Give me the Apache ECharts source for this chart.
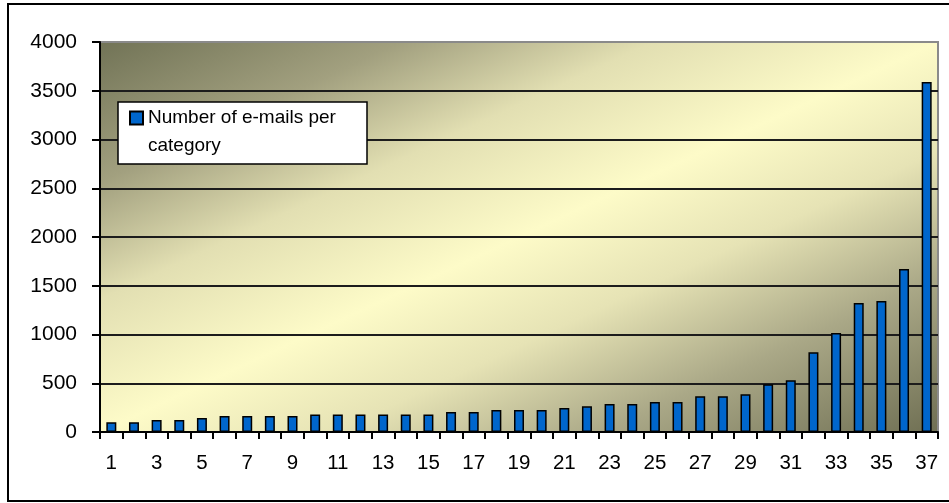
<!DOCTYPE html>
<html>
<head>
<meta charset="utf-8">
<script src="https://cdn.jsdelivr.net/npm/echarts@6/dist/echarts.min.js"></script>
<style>
  html, body { margin: 0; padding: 0; background: #ffffff; }
  #chart { width: 949px; height: 503px; }
</style>
</head>
<body>
<div id="chart"></div>
<script>
// Categories 1..37 along the x axis
const categories = ['1','2','3','4','5','6','7','8','9','10','11','12','13','14','15','16','17','18','19',
  '20','21','22','23','24','25','26','27','28','29','30','31','32','33','34','35','36','37'];

// Number of e-mails in each category
const emailCounts = [100, 100, 123, 123, 144, 164, 164, 164, 164, 180, 180, 180, 180, 180, 180, 205, 205,
  225, 225, 225, 246, 263, 287, 287, 308, 308, 366, 366, 386, 489, 530, 817, 1015, 1323, 1344, 1672, 3590];

const seriesName = 'Number of e-mails per category';
const legendLines = ['Number of e-mails per', 'category'];

// Value axis range
const yMin = 0;
const yMax = 4000;
const yStep = 500;

const FONT = "'Liberation Sans', Arial, sans-serif";

// Plot rectangle in pixels
const plot = { left: 100, top: 42, width: 838, height: 390 };

// Olive / cream shading: light band along the rising diagonal, dark toward
// the upper-left and lower-right corners.
const cx = plot.left + plot.width / 2;
const cy = plot.top + plot.height / 2;
const diag = Math.hypot(plot.width, plot.height);
const ux = plot.height / diag, uy = plot.width / diag;
const half = (plot.width / 2) * ux + (plot.height / 2) * uy;
const plotFill = new echarts.graphic.LinearGradient(
  cx - half * ux, cy - half * uy, cx + half * ux, cy + half * uy,
  [
    { offset: 0.00, color: '#717356' },
    { offset: 0.18, color: '#a2a07f' },
    { offset: 0.33, color: '#e2dfb2' },
    { offset: 0.50, color: '#fdfbc8' },
    { offset: 0.64, color: '#e6e3b5' },
    { offset: 0.80, color: '#aaa887' },
    { offset: 1.00, color: '#6f6f53' }
  ],
  true
);

const chart = echarts.init(document.getElementById('chart'), null, { renderer: 'canvas' });

chart.setOption({
  animation: false,
  backgroundColor: '#ffffff',
  grid: {
    left: plot.left,
    top: plot.top,
    width: plot.width,
    height: plot.height,
    show: true,
    backgroundColor: plotFill,
    borderColor: '#8a8a8a',
    borderWidth: 2,
    containLabel: false
  },
  graphic: [
    {
      type: 'rect',
      z: 0,
      shape: { x: 8, y: 4, width: 960, height: 497 },
      style: { fill: null, stroke: '#000000', lineWidth: 2 }
    },
    {
      type: 'rect',
      z: 10,
      shape: { x: 118, y: 102, width: 249, height: 62 },
      style: { fill: '#ffffff', stroke: '#000000', lineWidth: 1.5 }
    }
  ],
  legend: {
    z: 20,
    left: 129,
    top: 76,
    padding: 0,
    icon: 'rect',
    itemWidth: 13,
    itemHeight: 13,
    data: [seriesName],
    // leading empty line keeps the first text line level with the swatch
    formatter: () => '\n' + legendLines.join('\n'),
    textStyle: {
      fontFamily: FONT,
      fontSize: 19,
      color: '#000000',
      lineHeight: 28
    }
  },
  xAxis: {
    type: 'category',
    data: categories,
    boundaryGap: true,
    axisLine: { show: true, lineStyle: { color: '#000000', width: 2 } },
    axisTick: { show: true, interval: 0, length: 7, alignWithLabel: false,
      lineStyle: { color: '#000000', width: 2 } },
    axisLabel: { interval: 1, margin: 21, fontFamily: FONT, fontSize: 20.5, color: '#000000' },
    splitLine: { show: false }
  },
  yAxis: {
    type: 'value',
    min: yMin,
    max: yMax,
    interval: yStep,
    axisLine: { show: true, lineStyle: { color: '#000000', width: 2 } },
    axisTick: { show: true, length: 8, lineStyle: { color: '#000000', width: 2 } },
    axisLabel: { margin: 23, fontFamily: FONT, fontSize: 21, color: '#000000',
      formatter: (v) => String(v) },
    splitLine: { show: true, showMaxLine: false, lineStyle: { color: '#1c1c1c', width: 2 } }
  },
  series: [
    {
      name: seriesName,
      type: 'bar',
      data: emailCounts,
      barWidth: 10,
      itemStyle: { color: '#0066cc', borderColor: '#000000', borderWidth: 1.5 }
    }
  ]
});
</script>
</body>
</html>
